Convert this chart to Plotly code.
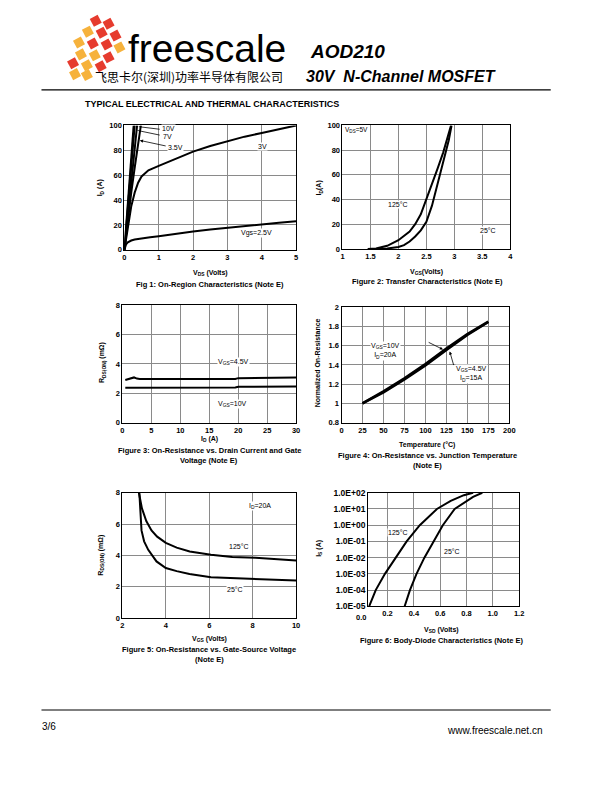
import math
import plotly.graph_objects as go

W, H = 612, 792
FONT = "Liberation Sans, Arial, sans-serif"

# ---------------- DATA ----------------
# Fig 1: On-region characteristics (VDS volts, ID amps)
f1_vds_10v = [0, 0.1, 0.2, 0.27]
f1_id_10v = [0, 37, 74, 100]
f1_vds_7v = [0, 0.1, 0.2, 0.3]
f1_id_7v = [0, 34, 67, 100]
f1_vds_45v = [0, 0.1, 0.2, 0.3, 0.37]
f1_id_45v = [0, 28, 55, 81, 100]
f1_vds_35v = [0, 0.1, 0.2, 0.3, 0.4, 0.48]
f1_id_35v = [0, 24, 46, 66, 84, 100]
f1_vds_3v = [0, 0.05, 0.1, 0.2, 0.3, 0.4, 0.5, 0.7, 1, 1.5, 2, 2.5, 3, 3.5, 4, 4.5, 5]
f1_id_3v = [0, 8, 18, 35, 46, 54, 59, 64, 67.5, 73.5, 79, 83.5, 87.5, 91, 94, 97, 100]
f1_vds_25v = [0, 0.02, 0.05, 0.1, 0.2, 0.3, 0.5, 0.75, 1, 1.5, 2, 2.5, 3, 3.5, 4, 4.5, 5]
f1_id_25v = [0, 2.5, 4.5, 6, 7.5, 8.3, 9.3, 10.2, 11, 13, 14.7, 16.3, 17.8, 19.2, 20.5, 21.8, 23]

# Fig 2: Transfer characteristics (VGS volts, ID amps)
f2_vgs_125 = [1.45, 1.6, 1.8, 2.0, 2.2, 2.3, 2.4, 2.5, 2.6, 2.7, 2.8, 2.9, 2.94]
f2_id_125 = [0, 0.3, 2.5, 7, 14, 20, 28, 40, 52, 65, 78, 93, 100]
f2_vgs_25 = [1.6, 1.8, 2.0, 2.1, 2.2, 2.3, 2.4, 2.5, 2.6, 2.7, 2.8, 2.9, 2.95]
f2_id_25 = [0, 0.3, 1.5, 3, 6, 10, 15, 22, 35, 52, 70, 88, 100]

# Fig 3: RDS(on) vs ID (A, mOhm)
f3_id = [0.5, 1, 1.5, 2, 2.5, 3, 5, 10, 15, 19.5, 20, 25, 30]
f3_r_45v = [2.9, 2.95, 3.05, 3.08, 3.0, 2.98, 2.97, 2.96, 2.97, 2.97, 3.03, 3.04, 3.08]
f3_r_10v = [2.38, 2.38, 2.38, 2.38, 2.38, 2.38, 2.38, 2.38, 2.39, 2.39, 2.44, 2.45, 2.47]

# Fig 4: normalized RDS(on) vs temperature
f4_temp = [25, 50, 75, 100, 125, 150, 175]
f4_r_10v = [1.0, 1.125, 1.26, 1.41, 1.57, 1.72, 1.85]
f4_r_45v = [1.0, 1.115, 1.25, 1.395, 1.555, 1.71, 1.845]

# Fig 5: RDS(on) vs VGS (V, mOhm)
f5_vgs_125 = [2.76, 2.9, 3.1, 3.34, 3.6, 4.0, 4.5, 5.1, 6.08, 7.06, 8.13, 9, 10]
f5_r_125 = [8.0, 7.0, 6.2, 5.6, 5.2, 4.8, 4.5, 4.25, 4.04, 3.9, 3.85, 3.78, 3.68]
f5_vgs_25 = [2.78, 2.83, 2.88, 3.0, 3.19, 3.57, 4.0, 4.5, 5.09, 6.08, 7.06, 8.13, 9, 10]
f5_r_25 = [8.0, 6.8, 5.6, 4.9, 4.36, 3.62, 3.2, 3.0, 2.82, 2.61, 2.55, 2.5, 2.45, 2.4]

# Fig 6: body diode (VSD volts, IS amps, log)
f6_vsd_125 = [0.06, 0.11, 0.18, 0.265, 0.345, 0.445, 0.575, 0.68, 0.78, 0.85]
f6_is_125 = [1e-5, 1e-4, 1e-3, 1e-2, 1e-1, 1e0, 1e1, 10**1.5, 10**1.85, 1e2]
f6_vsd_25 = [0.33, 0.37, 0.42, 0.48, 0.55, 0.62, 0.71, 0.78, 0.85, 0.92]
f6_is_25 = [1e-5, 1e-4, 1e-3, 1e-2, 1e-1, 1e0, 1e1, 10**1.4, 10**1.75, 1e2]
f6_ticks = [1e-5, 1e-4, 1e-3, 1e-2, 1e-1, 1e0, 1e1, 1e2]
f6_ticktext = ["1.0E-05", "1.0E-04", "1.0E-03", "1.0E-02", "1.0E-01", "1.0E+00", "1.0E+01", "1.0E+02"]

# ---------------- HELPERS ----------------
def px(x):
    return x / W

def py(y):
    return 1 - y / H

def dom_x(a, b):
    return [px(a), px(b)]

def dom_y(top, bottom):
    return [py(bottom), py(top)]

fig = go.Figure()
annotations = []
shapes = []

def txt(text, x, y, size=7, bold=False, xanchor="left", yanchor="middle",
        bg=None, angle=0, italic=False, color="black", family=FONT):
    font = dict(family=family, size=size, color=color)
    if bold:
        font["weight"] = "bold"
    if italic:
        font["style"] = "italic"
    a = dict(text=text, x=px(x), y=py(y), xref="paper", yref="paper",
             showarrow=False, xanchor=xanchor, yanchor=yanchor, font=font,
             textangle=angle, borderpad=0)
    if bg:
        a["bgcolor"] = bg
    annotations.append(a)

GRID = "#8a8a8a"

def axis(domain, rng, dtick=None, anchor=None, tsize=7.5, **kw):
    d = dict(domain=domain, range=rng, showgrid=True, gridcolor=GRID, gridwidth=1,
             showline=True, linecolor="black", linewidth=1, mirror=True,
             ticks="", zeroline=False, anchor=anchor,
             tickfont=dict(family=FONT, size=tsize, color="black", weight="bold"))
    if dtick is not None:
        d["dtick"] = dtick
    d.update(kw)
    return d

def line(x, y, xa, ya, width=2, color="black"):
    fig.add_trace(go.Scatter(x=x, y=y, mode="lines", xaxis=xa, yaxis=ya,
                             line=dict(color=color, width=width),
                             showlegend=False, hoverinfo="skip"))

# ---------------- TRACES ----------------
for xs, ys in [(f1_vds_10v, f1_id_10v), (f1_vds_7v, f1_id_7v), (f1_vds_45v, f1_id_45v),
               (f1_vds_35v, f1_id_35v), (f1_vds_3v, f1_id_3v), (f1_vds_25v, f1_id_25v)]:
    line(xs, ys, "x", "y")

line(f2_vgs_125, f2_id_125, "x2", "y2")
line(f2_vgs_25, f2_id_25, "x2", "y2")

line(f3_id, f3_r_45v, "x3", "y3")
line(f3_id, f3_r_10v, "x3", "y3")

line(f4_temp, f4_r_10v, "x4", "y4", width=2.5)
line(f4_temp, f4_r_45v, "x4", "y4", width=2.5)

line(f5_vgs_125, f5_r_125, "x5", "y5")
line(f5_vgs_25, f5_r_25, "x5", "y5")

line(f6_vsd_125, f6_is_125, "x6", "y6")
line(f6_vsd_25, f6_is_25, "x6", "y6")

layout = dict(
    width=W, height=H, autosize=False,
    margin=dict(l=0, r=0, t=0, b=0, pad=0),
    paper_bgcolor="white", plot_bgcolor="white",
    showlegend=False,
    xaxis=axis(dom_x(124, 298), [0, 5], 1, "y"),
    yaxis=axis(dom_y(122, 248), [0, 100], 20, "x"),
    xaxis2=axis(dom_x(345, 515), [1, 4], 0.5, "y2"),
    yaxis2=axis(dom_y(122, 247), [0, 100], 20, "x2"),
    xaxis3=axis(dom_x(122, 298), [0, 30], 5, "y3"),
    yaxis3=axis(dom_y(304, 423), [0, 8], 2, "x3"),
    xaxis4=axis(dom_x(344, 514), [0, 200], 25, "y4"),
    yaxis4=axis(dom_y(306, 423), [0.8, 2], 0.2, "x4"),
    xaxis5=axis(dom_x(122, 298), [2, 10], 2, "y5"),
    yaxis5=axis(dom_y(494, 621), [0, 8], 2, "x5"),
    xaxis6=axis(dom_x(371, 524), [0.0525, 1.2], None, "y6",
                tickvals=[0.2, 0.4, 0.6, 0.8, 1.0, 1.2], tickformat=".1f"),
    yaxis6=axis(dom_y(494, 609), [-5, 2], None, "x6", tsize=8.5, type="log",
                tickvals=f6_ticks, ticktext=f6_ticktext),
)

# ---------------- TEXT: inline labels ----------------
# Fig 1
txt("10V", 161, 125, bg="white")
txt("7V", 162, 133, bg="white")
txt("3.5V", 167, 144, bg="white")
txt("3V", 258, 143, bg="white")
txt("Vgs=2.5V", 241, 231, bg="white")
for tip, tail, head in [((0.42, 99), (161, 126), 0), ((0.38, 96), (161, 132), 0),
                        ((0.45, 88), (167, 143), 2)]:
    annotations.append(dict(x=tip[0], y=tip[1], xref="x", yref="y",
                            ax=tail[0] - (124 + tip[0] * 34.8), ay=tail[1] - (248 - tip[1] * 1.26),
                            text="", showarrow=True, arrowhead=head, arrowsize=0.8,
                            arrowwidth=0.8, arrowcolor="black", standoff=0, startstandoff=0))

# Fig 2
txt("V<sub>DS</sub>=5V", 347, 127, size=6.5, bg="white")
txt("125°C", 390, 202, bg="white")
txt("25°C", 483, 228, bg="white")

# Fig 3
txt("V<sub>GS</sub>=4.5V", 218, 362, bg="white")
txt("V<sub>GS</sub>=10V", 218, 404, bg="white")

# Fig 4
txt("V<sub>GS</sub>=10V<br>I<sub>D</sub>=20A", 373, 350, bg="white")
txt("V<sub>GS</sub>=4.5V<br>I<sub>D</sub>=15A", 459, 374, bg="white")
for tip, tail, head in [((121, 1.56), (431, 341), 2), ((129, 1.54), (458, 366), 2)]:
    tpx = 344 + tip[0] * 0.85
    tpy = 306 + (2 - tip[1]) * 97.5
    annotations.append(dict(x=tip[0], y=tip[1], xref="x4", yref="y4",
                            ax=tail[0] - tpx, ay=tail[1] - tpy,
                            text="", showarrow=True, arrowhead=head, arrowsize=0.8,
                            arrowwidth=0.8, arrowcolor="black", standoff=0, startstandoff=0))

# Fig 5
txt("I<sub>D</sub>=20A", 249, 507, bg="white")
txt("125°C", 229, 548, bg="white")
txt("25°C", 227, 592, bg="white")

# Fig 6
txt("125°C", 390, 534, bg="white")
txt("25°C", 447, 553, bg="white")
txt("0.0", 364, 620, size=7.5, bold=True, xanchor="center")

# ---------------- TEXT: axis titles & captions ----------------
txt("I<sub>D</sub> (A)", 99, 185, bold=True, xanchor="center", angle=-90)
txt("V<sub>DS</sub> (Volts)", 211, 271, bold=True, xanchor="center")
txt("Fig 1: On-Region Characteristics (Note E)", 211, 283, size=7.5, bold=True, xanchor="center")

txt("I<sub>D</sub>(A)", 321, 185, bold=True, xanchor="center", angle=-90)
txt("V<sub>GS</sub>(Volts)", 430, 270, bold=True, xanchor="center")
txt("Figure 2: Transfer Characteristics (Note E)", 431, 280, size=7.5, bold=True, xanchor="center")

txt("R<sub>DS(ON)</sub> (mΩ)", 102, 362, bold=True, xanchor="center", angle=-90)
txt("I<sub>D</sub> (A)", 210, 440, bold=True, xanchor="center")
txt("Figure 3: On-Resistance vs. Drain Current and Gate", 210, 451, size=7.5, bold=True, xanchor="center")
txt("Voltage (Note E)", 210, 461, size=7.5, bold=True, xanchor="center")

txt("Normalized On-Resistance", 320, 362, bold=True, xanchor="center", angle=-90)
txt("Temperature (°C)", 431, 446, bold=True, xanchor="center")
txt("Figure 4: On-Resistance vs. Junction Temperature", 431, 456, size=7.5, bold=True, xanchor="center")
txt("(Note E)", 431, 466, size=7.5, bold=True, xanchor="center")

txt("R<sub>DS(ON)</sub> (mΩ)", 100, 557, bold=True, xanchor="center", angle=-90)
txt("V<sub>GS</sub> (Volts)", 210, 642, bold=True, xanchor="center")
txt("Figure 5: On-Resistance vs. Gate-Source Voltage", 210, 653, size=7.5, bold=True, xanchor="center")
txt("(Note E)", 210, 663, size=7.5, bold=True, xanchor="center")

txt("I<sub>S</sub> (A)", 321, 550, bold=True, xanchor="center", angle=-90)
txt("V<sub>SD</sub> (Volts)", 445, 633, bold=True, xanchor="center")
txt("Figure 6: Body-Diode Characteristics (Note E)", 445, 644, size=7.5, bold=True, xanchor="center")

# ---------------- HEADER ----------------
txt("freescale", 127, 44, size=39, xanchor="left")
txt("飞思卡尔(深圳)功率半导体有限公司", 93, 72, size=12, xanchor="left",
    family="Noto Sans CJK SC, sans-serif")
txt("AOD210", 311, 47, size=19, bold=True, italic=True)
txt("30V  N-Channel MOSFET", 307, 72, size=16, bold=True, italic=True)
txt("TYPICAL ELECTRICAL AND THERMAL CHARACTERISTICS", 83, 100, size=9, bold=True)

# logo: tilted squares
RED = "#E63B2E"
ORG = "#F6B23C"
logo = [
    (95, 16, RED), (108, 19, RED),
    (87, 27, ORG), (101, 28, RED), (115, 31, RED),
    (78, 38, ORG), (92, 39, RED), (106, 40, RED), (119, 43, ORG),
    (80, 50, ORG), (94, 51, ORG), (108, 53, RED),
    (72, 59, RED), (86, 61, ORG), (100, 62, RED),
    (74, 70, ORG), (86, 71, ORG),
]
th = math.radians(-28)
for cx, cy, col in logo:
    pts = []
    for sx, sy in [(-4.5, -4.5), (4.5, -4.5), (4.5, 4.5), (-4.5, 4.5)]:
        rx = cx + sx * math.cos(th) - sy * math.sin(th)
        ry = cy + sx * math.sin(th) + sy * math.cos(th)
        pts.append((px(rx), py(ry)))
    path = "M " + " L ".join(f"{a:.5f} {b:.5f}" for a, b in pts) + " Z"
    shapes.append(dict(type="path", path=path, xref="paper", yref="paper",
                       fillcolor=col, line=dict(width=0)))

# header and footer rules
shapes.append(dict(type="line", xref="paper", yref="paper", x0=px(40), x1=px(556),
                   y0=py(86), y1=py(86), line=dict(color="black", width=1.2)))
shapes.append(dict(type="line", xref="paper", yref="paper", x0=px(40), x1=px(556),
                   y0=py(714), y1=py(714), line=dict(color="black", width=1.2)))

# ---------------- FOOTER ----------------
txt("3/6", 40, 731, size=10)
txt("www.freescale.net.cn", 549, 735, size=10, xanchor="right")

layout["annotations"] = annotations
layout["shapes"] = shapes
fig.update_layout(**layout)

post = (
    "document.documentElement.style.margin='0';"
    "document.body.style.margin='0';"
    "document.documentElement.style.overflow='hidden';"
    "document.body.style.overflow='hidden';"
    "var gd=document.getElementById('{plot_id}');"
    "gd.style.position='fixed';gd.style.left='0px';gd.style.top='0px';"
)
fig.write_html("out.html", config={"displayModeBar": False}, post_script=post)
